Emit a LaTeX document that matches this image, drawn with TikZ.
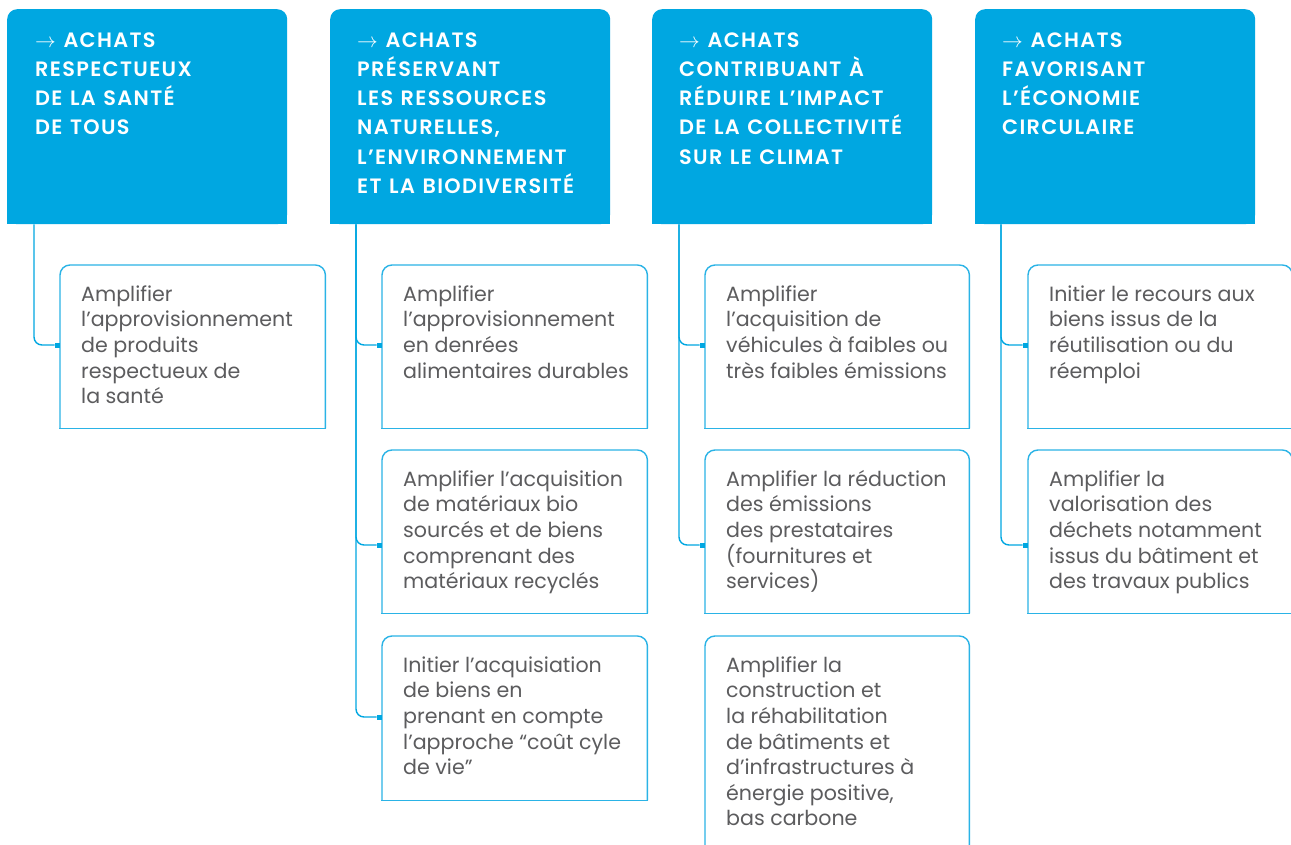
\documentclass[tikz,border=0pt]{standalone}
\usepackage{fontspec}
\setmainfont{Poppins}
\newfontfamily\hdrfont{Poppins}[UprightFont=* SemiBold, LetterSpace=6.5, WordSpace=1.2]
\usetikzlibrary{calc}
\definecolor{hdrc}{HTML}{00A7E1}
\definecolor{boxc}{HTML}{2AB3E6}
\definecolor{txtc}{HTML}{5C5C5E}
\tikzset{
  hdr/.style={anchor=north west, minimum width=280pt, minimum height=215pt, fill=hdrc, rounded corners=10pt, inner sep=0pt},
  card/.style={anchor=north west, minimum width=265pt, minimum height=163pt, inner sep=0pt},
  hdrtxt/.style={anchor=north west, inner sep=0pt, align=left, text=white, font=\fontsize{20.8}{29.2}\selectfont\hdrfont},
  cardtxt/.style={anchor=north west, inner sep=0pt, align=left, text=txtc, font=\fontsize{20.6}{25.6}\selectfont},
  conn/.style={draw=hdrc, line width=1.4pt, rounded corners=8pt},
  mark5/.style={fill=hdrc, inner sep=0pt, minimum width=5pt, minimum height=5pt, anchor=east},
}
\newcommand{\cardborder}[1]{%
  \draw[boxc, line width=1.4pt, rounded corners=10pt] (#1.south west) -- (#1.north west) -- (#1.north east) -- (#1.south east);
  \draw[boxc, line width=1.4pt, line cap=rect] (#1.south west) -- (#1.south east);}
\newcommand{\hsq}[1]{\fill[hdrc] (#1.south west) rectangle ($(#1.south east)+(0,-15)$);}
\begin{document}
\begin{tikzpicture}[x=1pt, y=-1pt]
\useasboundingbox[fill=white] (0,0) rectangle (1291,845);
% headers
\node[hdr] (h1) at (7,9) {};
\node[hdr] (h2) at (330,9) {};
\node[hdr] (h3) at (652,9) {};
\node[hdr] (h4) at (975,9) {};
\hsq{h1}\hsq{h2}\hsq{h3}\hsq{h4}
\node[hdrtxt] (ht1) at ($(h1.north west)+(28,17.6)$) {\strut$\rightarrow$ ACHATS\\RESPECTUEUX\\DE LA SANTÉ\\DE TOUS};
\node[hdrtxt] (ht2) at ($(h2.north west)+(27,17.6)$) {\strut$\rightarrow$ ACHATS\\PRÉSERVANT\\LES RESSOURCES\\NATURELLES,\\L’ENVIRONNEMENT\\ET LA BIODIVERSITÉ};
\node[hdrtxt] (ht3) at ($(h3.north west)+(27,17.6)$) {\strut$\rightarrow$ ACHATS\\CONTRIBUANT À\\RÉDUIRE L’IMPACT\\DE LA COLLECTIVITÉ\\SUR LE CLIMAT};
\node[hdrtxt] (ht4) at ($(h4.north west)+(27,17.6)$) {\strut$\rightarrow$ ACHATS\\FAVORISANT\\L’ÉCONOMIE\\CIRCULAIRE};
% cards
\node[card] (b11) at (60,265) {};
\node[card] (b21) at (382,265) {};
\node[card] (b22) at (382,450) {};
\node[card, minimum height=164pt] (b23) at (382,636) {};
\node[card, minimum width=264pt] (b31) at (705,265) {};
\node[card, minimum width=264pt] (b32) at (705,450) {};
\node[card, minimum width=264pt, minimum height=215pt] (b33) at (705,636) {};
\node[card, minimum width=264pt] (b41) at (1028,265) {};
\node[card, minimum width=264pt] (b42) at (1028,450) {};
\foreach \b in {b11,b21,b22,b23,b31,b32,b33,b41,b42}{\cardborder{\b}}
\newcommand{\ct}[2]{\node[cardtxt] (t#1) at ($(#1.north west)+(21,18.1)$) {\strut #2};}
\ct{b11}{Amplifier\\l’approvisionnement\\de produits\\respectueux de\\la santé}
\ct{b21}{Amplifier\\l’approvisionnement\\en denrées\\alimentaires durables}
\ct{b22}{Amplifier l’acquisition\\de matériaux bio\\sourcés et de biens\\comprenant des\\matériaux recyclés}
\ct{b23}{Initier l’acquisiation\\de biens en\\prenant en compte\\l’approche “coût cyle\\de vie”}
\ct{b31}{Amplifier\\l’acquisition de\\véhicules à faibles ou\\très faibles émissions}
\ct{b32}{Amplifier la réduction\\des émissions\\des prestataires\\(fournitures et\\services)}
\ct{b33}{Amplifier la\\construction et\\la réhabilitation\\de bâtiments et\\d’infrastructures à\\énergie positive,\\bas carbone}
\ct{b41}{Initier le recours aux\\biens issus de la\\réutilisation ou du\\réemploi}
\ct{b42}{Amplifier la\\valorisation des\\déchets notamment\\issus du bâtiment et\\des travaux publics}
% markers
\node[mark5] (m11) at ($(b11.north west)+(0,80)$) {};
\node[mark5] (m21) at ($(b21.north west)+(0,80)$) {};
\node[mark5] (m22) at ($(b22.north west)+(0,95)$) {};
\node[mark5] (m23) at ($(b23.north west)+(0,81)$) {};
\node[mark5] (m31) at ($(b31.north west)+(0,80)$) {};
\node[mark5] (m32) at ($(b32.north west)+(0,95)$) {};
\node[mark5] (m41) at ($(b41.north west)+(0,80)$) {};
\node[mark5] (m42) at ($(b42.north west)+(0,95)$) {};
% connectors
\draw[conn] ($(h1.south west)+(27,0)$) |- (m11.west);
\draw[conn] ($(h2.south west)+(26,0)$) |- (m21.west);
\draw[conn] ($(h2.south west)+(26,0)$) |- (m22.west);
\draw[conn] ($(h2.south west)+(26,0)$) |- (m23.west);
\draw[conn] ($(h3.south west)+(27,0)$) |- (m31.west);
\draw[conn] ($(h3.south west)+(27,0)$) |- (m32.west);
\draw[conn] ($(h4.south west)+(26,0)$) |- (m41.west);
\draw[conn] ($(h4.south west)+(26,0)$) |- (m42.west);
\end{tikzpicture}
\end{document}
